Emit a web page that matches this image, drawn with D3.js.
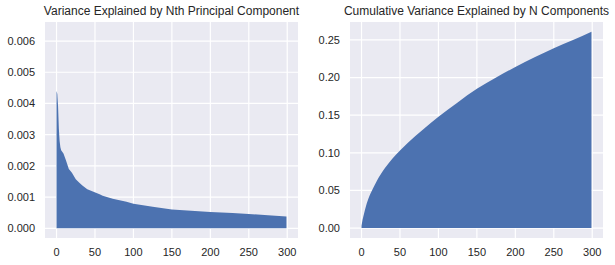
<!DOCTYPE html>
<html>
<head>
<meta charset="utf-8">
<script src="https://cdn.jsdelivr.net/npm/d3@7"></script>
<style>
  body { margin: 0; background: #fff; }
  text { font-family: "Liberation Sans", Arial, sans-serif; fill: #262626; }
</style>
</head>
<body>
<svg id="chart" width="615" height="265"></svg>
<script>
// component index and explained variance ratio
const compIndex = [0, 1, 2, 3, 4, 5, 6, 9, 12, 16, 20, 25, 30, 34, 40, 52, 56, 60, 73, 91, 100, 125, 150, 175, 200, 229, 250, 275, 299];
const compVariance = [0.0044, 0.0043, 0.0039, 0.0032, 0.0028, 0.0026, 0.0025, 0.0024, 0.0022, 0.0019, 0.00178, 0.00157, 0.00145, 0.00136, 0.00125, 0.00113, 0.00109, 0.00104, 0.00095, 0.00085, 0.00079, 0.00069, 0.00060, 0.00056, 0.00052, 0.00049, 0.00046, 0.00042, 0.00038];

// number of components and cumulative variance
const cumIndex = [0, 1, 3, 6, 10, 15, 20, 30, 40, 50, 60, 80, 100, 125, 150, 175, 200, 225, 250, 275, 299];
const cumVariance = [0.003, 0.009, 0.018, 0.030, 0.042, 0.053, 0.063, 0.079, 0.092, 0.103, 0.113, 0.131, 0.148, 0.167, 0.185, 0.200, 0.214, 0.227, 0.239, 0.250, 0.261];

const xTicks = [0, 50, 100, 150, 200, 250, 300];
const leftYTicks = [0, 0.001, 0.002, 0.003, 0.004, 0.005, 0.006];
const rightYTicks = [0, 0.05, 0.10, 0.15, 0.20, 0.25];

const svg = d3.select("#chart");

function drawPanel(opts) {
  const x = d3.scaleLinear().domain([-15, 314]).range([opts.left, opts.left + 253]);
  const y = d3.scaleLinear().domain(opts.yDomain).range([238, 22]);

  const g = svg.append("g");

  // background
  g.append("rect")
    .attr("x", x.range()[0])
    .attr("y", 22)
    .attr("width", 253)
    .attr("height", 216)
    .attr("fill", "#EAEAF2");

  // grid
  g.selectAll(".vgrid")
    .data(xTicks)
    .enter()
    .append("line")
    .attr("x1", d => x(d))
    .attr("x2", d => x(d))
    .attr("y1", 22)
    .attr("y2", 238)
    .attr("stroke", "#fff")
    .attr("stroke-width", 1.2);

  g.selectAll(".hgrid")
    .data(opts.yTicks)
    .enter()
    .append("line")
    .attr("x1", x.range()[0])
    .attr("x2", x.range()[1])
    .attr("y1", d => y(d))
    .attr("y2", d => y(d))
    .attr("stroke", "#fff")
    .attr("stroke-width", 1.2);

  // filled area
  const area = d3.area()
    .x(d => x(d[0]))
    .y0(y(0))
    .y1(d => y(d[1]))
    .curve(opts.curve);

  g.append("path")
    .datum(d3.zip(opts.xs, opts.ys))
    .attr("d", area)
    .attr("fill", "#4C72B0");

  // tick labels
  g.selectAll(".xlab")
    .data(xTicks)
    .enter()
    .append("text")
    .attr("x", d => x(d))
    .attr("y", 256)
    .attr("text-anchor", "middle")
    .attr("font-size", 11)
    .text(d => d);

  g.selectAll(".ylab")
    .data(opts.yTicks)
    .enter()
    .append("text")
    .attr("x", opts.left - 10)
    .attr("y", d => y(d))
    .attr("dy", "0.35em")
    .attr("text-anchor", "end")
    .attr("font-size", 11)
    .text(d => d3.format(opts.fmt)(d));

  // title
  g.append("text")
    .attr("x", opts.left + 126.5)
    .attr("y", 15)
    .attr("text-anchor", "middle")
    .attr("font-size", 12)
    .text(opts.title);
}

drawPanel({
  left: 45,
  yDomain: [-0.00031, 0.00661],
  yTicks: leftYTicks,
  fmt: ".3f",
  xs: compIndex,
  ys: compVariance,
  curve: d3.curveLinear,
  title: "Variance Explained by Nth Principal Component"
});

drawPanel({
  left: 350,
  yDomain: [-0.0132, 0.2738],
  yTicks: rightYTicks,
  fmt: ".2f",
  xs: cumIndex,
  ys: cumVariance,
  curve: d3.curveMonotoneX,
  title: "Cumulative Variance Explained by N Components"
});
</script>
</body>
</html>
